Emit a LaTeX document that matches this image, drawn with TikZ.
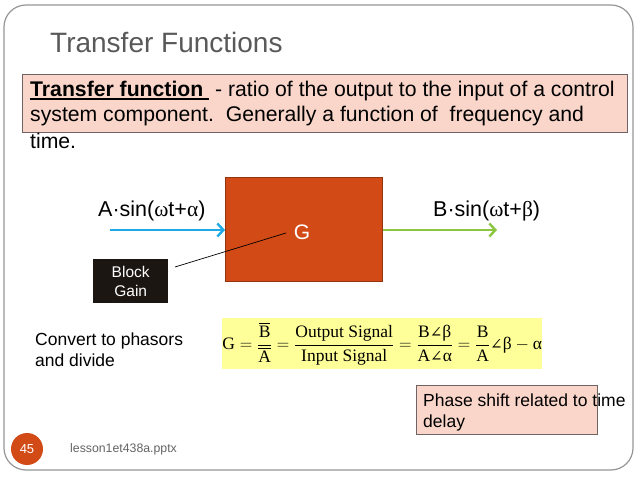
\documentclass[tikz,border=0pt]{standalone}
\usepackage{amsmath}
\usepackage{fontspec}
\setmainfont{Liberation Sans}
\newfontfamily\tms{Liberation Serif}
\newfontfamily\dvs{DejaVu Serif}
\usetikzlibrary{arrows.meta}
\definecolor{framec}{RGB}{150,150,150}
\definecolor{titlec}{RGB}{89,89,89}
\definecolor{pinkc}{RGB}{249,214,201}
\definecolor{pinkedge}{RGB}{110,100,100}
\definecolor{orangec}{RGB}{210,74,22}
\definecolor{bluec}{RGB}{30,170,228}
\definecolor{greenc}{RGB}{140,198,63}
\definecolor{yellowc}{RGB}{255,255,153}
\definecolor{blackc}{RGB}{28,22,18}
\definecolor{footc}{RGB}{100,100,100}
\newcommand\ulbox[1]{\sbox0{#1}\rlap{\rule[-2.8pt]{\wd0}{1.7pt}}\usebox0}
\newcommand\tm[1]{\text{\tms #1}}
\newcommand\ang{\text{\dvs\fontsize{15}{18}\selectfont ∠}}
\newcommand\deffont{\fontsize{21.2}{25}\selectfont}
\newcommand\bodyfont{\fontsize{17.5}{21}\selectfont}
\newcommand\sigfont{\fontsize{21.5}{25}\selectfont}
\tikzset{
  txt/.style={inner sep=0pt, anchor=base west, text=black},
  pinkbox/.style={draw=pinkedge, fill=pinkc, line width=0.8pt, inner sep=0pt, anchor=north west},
  yellowbox/.style={fill=yellowc, inner sep=0pt, anchor=north west},
  gbox/.style={fill=orangec, draw=orangec!70!black, line width=0.5pt, inner sep=0pt, anchor=north west},
  blackbox/.style={fill=blackc, inner sep=0pt, anchor=north west},
  sigarrow/.style={line width=2.4pt, -{Straight Barb[length=6pt,width=13pt]}},
}
\begin{document}
\begin{tikzpicture}[x=1pt,y=-1pt]
\useasboundingbox (0,0) rectangle (638,478);
\fill[white] (0,0) rectangle (638,478);
\draw[framec, line width=1.2pt, rounded corners=22pt] (4,5) rectangle (633,470);
% title
\node[txt, font=\fontsize{28}{32}\selectfont, text=titlec] (title) at (50,53) {Transfer Functions};
% definition
\node[pinkbox, minimum width=605pt, minimum height=58pt] (defbox) at (22,74) {};
\node[txt, font=\deffont] (d1) at (30,97) {\ulbox{\textbf{Transfer function\ }}\ - ratio of the output to the input of a control};
\node[txt, font=\deffont] (d2) at (30,122) {system component.\ \ Generally a function of\ \ frequency and};
\node[txt, font=\deffont] (d3) at (30,149) {time.};
% block diagram
\node[gbox, minimum width=157pt, minimum height=104pt] (G) at (225,177) {};
\node[inner sep=0pt, text=white, font=\fontsize{21}{24}\selectfont] (gl) at (302,232) {G};
\coordinate (ain) at (110,230);
\coordinate (bout) at (497,230);
\draw[sigarrow, bluec] (ain) -- (ain -| G.west);
\draw[sigarrow, greenc] (bout -| G.east) -- (bout);
\node[txt, font=\sigfont] (alab) at (98,217) {A·sin({\tms ω}t+{\tms α})};
\node[txt, font=\sigfont] (blab) at (433,217) {B·sin({\tms ω}t+{\tms β})};
\node[blackbox, minimum width=75pt, minimum height=44pt, align=center, text=white, font=\fontsize{15.5}{19}\selectfont] (bg) at (93,259) {Block\\Gain};
\coordinate (lp1) at (175,267);
\coordinate (lp2) at (286,233);
\draw[black, line width=0.7pt] (lp1) -- (lp2);
% convert
\node[txt, font=\bodyfont] (c1) at (35,346) {Convert to phasors};
\node[txt, font=\bodyfont] (c2) at (35,367) {and divide};
% formula
\node[yellowbox, minimum width=320pt, minimum height=51pt] (fbox) at (222,318) {};
\node[inner sep=0pt, font=\fontsize{17.5}{20}\selectfont] (formula) at (fbox.center) {$\tm{G}=\dfrac{\overline{\tm{B}}}{\overline{\tm{A}}}=\dfrac{\tm{Output Signal}}{\tm{Input Signal}}=\dfrac{\tm{B}\ang\tm{β}}{\tm{A}\ang\tm{α}}=\dfrac{\tm{B}}{\tm{A}}\ang\tm{β}-\tm{α}$};
% phase shift
\node[pinkbox, minimum width=181pt, minimum height=49pt] (pbox) at (416,385) {};
\node[txt, font=\bodyfont] (p1) at (423,407) {Phase shift related to time};
\node[txt, font=\bodyfont] (p2) at (423,428) {delay};
% footer
\node[circle, fill=orangec, minimum size=32pt, inner sep=0pt, text=white, font=\fontsize{13}{15}\selectfont] (num) at (27,449) {45};
\node[anchor=west, inner sep=0pt, text=footc, font=\fontsize{12.3}{14}\selectfont] (foot) at (70,449) {lesson1et438a.pptx};
\end{tikzpicture}
\end{document}
